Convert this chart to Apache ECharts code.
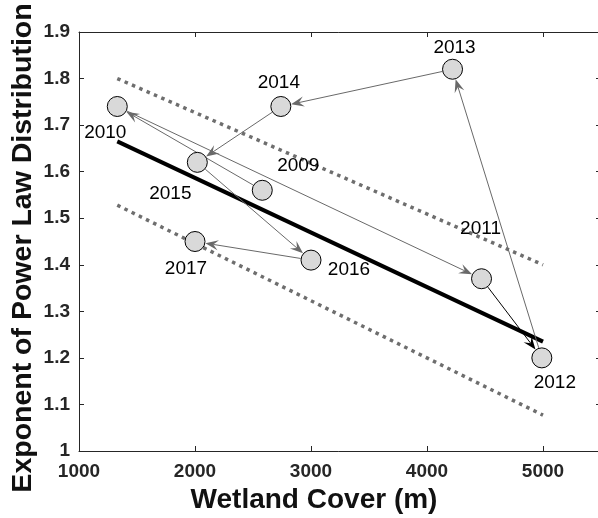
<!DOCTYPE html>
<html>
<head>
<meta charset="utf-8">
<script src="https://cdn.jsdelivr.net/npm/echarts@6/dist/echarts.min.js"></script>
<style>
  html, body { margin: 0; padding: 0; background: #fff; }
  #chart { width: 598px; height: 518px; }
</style>
</head>
<body>
<div id="chart"></div>
<script>
// Yearly observations: wetland cover vs. power-law exponent
const years = [2009, 2010, 2011, 2012, 2013, 2014, 2015, 2016, 2017];
const wetlandCover = [2580, 1330, 4470, 4990, 4220, 2740, 2020, 3000, 2000];
const exponent = [1.56, 1.74, 1.37, 1.20, 1.82, 1.74, 1.62, 1.41, 1.45];

// Linear fit and its confidence band (end points)
const fitX = [1330, 5000];
const fitY = [1.665, 1.235];
const upperY = [1.80, 1.40];
const lowerY = [1.528, 1.077];

// Axis ranges
const xRange = [1000, 5500];
const xStep = 1000;
const yRange = [1, 1.9];
const yStep = 0.1;

// Placement of each year label around its marker (pixels)
const labelOffset = {
  2009: [36, -25], 2010: [-12, 26], 2011: [-1, -50], 2012: [13, 25],
  2013: [2, -21], 2014: [-2, -24], 2015: [-27, 31], 2016: [38, 10], 2017: [-9, 27]
};
const darkArrowFrom = 2011;

const FONT = '"Liberation Sans", Arial, Helvetica, sans-serif';
const AXIS_COLOR = '#262626';
const MARKER_R = 10;

const pairs = (ys) => fitX.map((x, i) => [x, ys[i]]);

const points = years.map((y, i) => ({
  value: [wetlandCover[i], exponent[i], y],
  label: { offset: labelOffset[y] }
}));

const steps = [];
for (let i = 0; i < years.length - 1; i++) {
  steps.push([wetlandCover[i], exponent[i], wetlandCover[i + 1], exponent[i + 1]]);
}

// Arrow from one year's marker to the next, stopping at the marker rim
function renderArrow(params, api) {
  const p0 = api.coord([api.value(0), api.value(1)]);
  const p1 = api.coord([api.value(2), api.value(3)]);
  const dx = p1[0] - p0[0], dy = p1[1] - p0[1];
  const len = Math.hypot(dx, dy);
  const ux = dx / len, uy = dy / len;
  const nx = -uy, ny = ux;
  const r = MARKER_R + 0.5;
  const start = [p0[0] + ux * r, p0[1] + uy * r];
  const tip = [p1[0] - ux * r, p1[1] - uy * r];
  const L = 13, W = 5, N = 8;
  const base = [tip[0] - ux * L, tip[1] - uy * L];
  const left = [base[0] + nx * W, base[1] + ny * W];
  const right = [base[0] - nx * W, base[1] - ny * W];
  const notch = [tip[0] - ux * N, tip[1] - uy * N];
  const color = years[params.dataIndex] === darkArrowFrom ? '#000' : '#696969';
  return {
    type: 'group',
    children: [
      { type: 'line', shape: { x1: start[0], y1: start[1], x2: notch[0], y2: notch[1] },
        style: { stroke: color, lineWidth: 1 } },
      { type: 'polygon', shape: { points: [tip, left, notch, right] },
        style: { fill: color } }
    ]
  };
}

const axisLine = { show: true, lineStyle: { color: AXIS_COLOR, width: 1 } };
const axisTick = { show: true, inside: true, length: 5, lineStyle: { color: AXIS_COLOR } };
const tickFont = { fontFamily: FONT, fontSize: 19, fontWeight: 'bold', color: AXIS_COLOR };

const chart = echarts.init(document.getElementById('chart'), null, { renderer: 'canvas' });
chart.setOption({
  animation: false,
  backgroundColor: '#fff',
  grid: { left: 79, top: 32, width: 522, height: 419, containLabel: false, outerBoundsMode: 'none' },
  xAxis: [
    { type: 'value', position: 'bottom', min: xRange[0], max: xRange[1], interval: xStep,
      axisLine, axisTick, splitLine: { show: false },
      axisLabel: Object.assign({ margin: 11, showMaxLabel: false, formatter: (v) => String(v) }, tickFont) },
    { type: 'value', position: 'top', min: xRange[0], max: xRange[1], interval: xStep,
      axisLine, axisTick, splitLine: { show: false }, axisLabel: { show: false } }
  ],
  yAxis: [
    { type: 'value', position: 'left', min: yRange[0], max: yRange[1], interval: yStep,
      axisLine, axisTick, splitLine: { show: false },
      axisLabel: Object.assign({ margin: 9 }, tickFont) },
    { type: 'value', position: 'right', min: yRange[0], max: yRange[1], interval: yStep,
      axisLine, axisTick, splitLine: { show: false }, axisLabel: { show: false } }
  ],
  graphic: [
    { type: 'text', x: 314, y: 500,
      style: { text: 'Wetland Cover (m)', font: 'bold 28px ' + FONT, fill: '#111',
               textAlign: 'center', textVerticalAlign: 'middle' } },
    { type: 'text', x: 23, y: 248, rotation: Math.PI / 2,
      style: { text: 'Exponent of Power Law Distribution', font: 'bold 28.5px ' + FONT, fill: '#111',
               textAlign: 'center', textVerticalAlign: 'middle' } }
  ],
  series: [
    { name: 'upper', type: 'line', data: pairs(upperY), symbol: 'none', z: 2,
      lineStyle: { color: '#6e6e6e', width: 3.5, type: [3.5, 4.5], cap: 'butt' } },
    { name: 'lower', type: 'line', data: pairs(lowerY), symbol: 'none', z: 2,
      lineStyle: { color: '#6e6e6e', width: 3.5, type: [3.5, 4.5], cap: 'butt' } },
    { name: 'fit', type: 'line', data: pairs(fitY), symbol: 'none', z: 3,
      lineStyle: { color: '#000', width: 4, cap: 'butt' } },
    { name: 'trajectory', type: 'custom', renderItem: renderArrow, data: steps, z: 4,
      encode: { x: [0, 2], y: [1, 3] }, clip: false },
    { name: 'years', type: 'scatter', data: points, symbol: 'circle', symbolSize: MARKER_R * 2, z: 5,
      itemStyle: { color: '#d9d9d9', borderColor: '#000', borderWidth: 1, opacity: 1 },
      label: { show: true, position: 'inside', formatter: (p) => String(p.value[2]),
               fontFamily: FONT, fontSize: 19, color: '#000',
               align: 'center', verticalAlign: 'middle' } }
  ]
});
</script>
</body>
</html>
